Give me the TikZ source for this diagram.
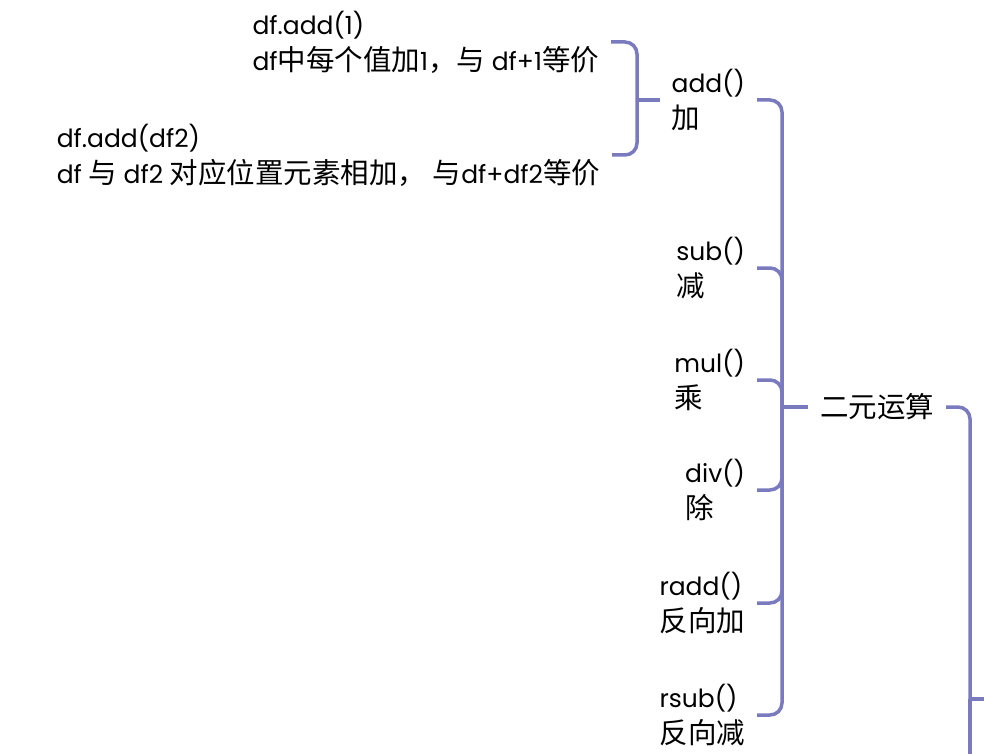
\documentclass[tikz,border=0pt]{standalone}
\usepackage{fontspec}
\setmainfont{Poppins}
\newfontfamily\cjk[Scale=1.14]{Noto Sans CJK SC}
\definecolor{lin}{RGB}{122,122,190}
\begin{document}
\begin{tikzpicture}[x=1pt,y=-1pt,
  conn/.style={draw=lin, line width=3.5pt, rounded corners=12pt},
  topic/.style={inner xsep=12pt, inner ysep=0pt, outer sep=0pt, align=left,
    font=\fontsize{25}{36}\selectfont, text=black}]
\useasboundingbox (0,0) rectangle (984,754);
\clip (0,0) rectangle (984,754);
% nodes
\node[topic, anchor=east] (n1) at (611,42) {df.add(1)\\df{\cjk 中每个值加}1{\cjk ，与} df+1{\cjk 等价}};
\node[topic, anchor=east] (n2) at (612,155) {df.add(df2)\\df {\cjk 与} df2 {\cjk 对应位置元素相加，\ 与}df+df2{\cjk 等价}};
\node[topic, anchor=east] (add) at (757,100) {add()\\{\cjk 加}};
\node[topic, anchor=east] (sub) at (757,268) {sub()\\{\cjk 减}};
\node[topic, anchor=east] (mul) at (757,380) {mul()\\{\cjk 乘}};
\node[topic, anchor=east] (div) at (757,490) {div()\\{\cjk 除}};
\node[topic, anchor=east] (radd) at (757,603) {radd()\\{\cjk 反向加}};
\node[topic, anchor=east] (rsub) at (757,715) {rsub()\\{\cjk 反向减}};
\node[topic, anchor=west] (bin) at (808,407) {{\cjk 二元运算}};
% connectors: add -> examples
\coordinate (t1) at (637,100);
\draw[conn] (add.west) -- (t1);
\draw[conn] (t1) |- (n1.east);
\draw[conn] (t1) |- (n2.east);
% binary ops -> children
\coordinate (t2) at (782,407);
\draw[conn] (bin.west) -- (t2);
\foreach \c in {add,sub,mul,div,radd,rsub} {\draw[conn] (t2) |- (\c.east);}
% parent (off picture)
\coordinate (t3) at (970,699);
\coordinate (p3) at (1000,699);
\coordinate (q3) at (970,800);
\draw[conn] (t3) |- (bin.east);
\draw[conn] (t3) -- (p3);
\draw[conn] (t3) -- (q3);
\end{tikzpicture}
\end{document}
